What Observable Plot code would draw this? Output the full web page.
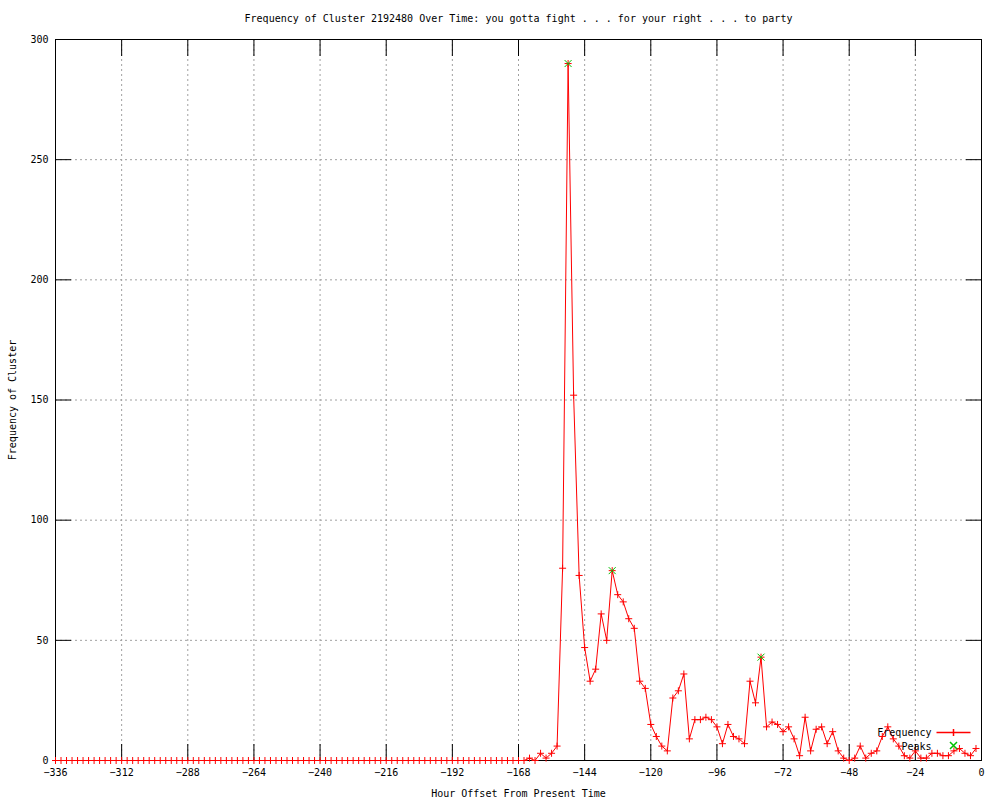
<!DOCTYPE html>
<html>
<head>
<meta charset="utf-8">
<script src="https://cdn.jsdelivr.net/npm/d3@7"></script>
<script src="https://cdn.jsdelivr.net/npm/@observablehq/plot@0.6"></script>
<style>
  html, body { margin: 0; padding: 0; background: #fff; }
  #chart svg { display: block; }
</style>
</head>
<body>
<div id="chart"></div>
<script>
// ---- Data ----
const titleText = "Frequency of Cluster 2192480 Over Time: you gotta fight . . . for your right . . . to party";
const xLabel = "Hour Offset From Present Time";
const yLabel = "Frequency of Cluster";

// hours from -336 to -2, every 2 hours
const hours = d3.range(-336, 0, 2);

const frequency = [
  0,0,0,0,0,0,0,0,0,0, 0,0,0,0,0,0,0,0,0,0,
  0,0,0,0,0,0,0,0,0,0, 0,0,0,0,0,0,0,0,0,0,
  0,0,0,0,0,0,0,0,0,0, 0,0,0,0,0,0,0,0,0,0,
  0,0,0,0,0,0,0,0,0,0, 0,0,0,0,0,0,0,0,0,0,
  0,0,0,0,0,0,
  1,0,3,1,3,6,
  80,290,152,77,47,33,38,61,50,79,
  69,66,59,55,33,30,15,10,6,4,
  26,29,36,9,17,17,18,17,14,7,
  15,10,9,7,33,24,43,14,16,15,
  12,14,9,2,18,4,13,14,7,12,
  4,1,0,1,6,1,3,4,10,14,
  9,6,2,1,4,1,1,3,3,2,
  2,4,5,3,2,5
];

const peakHours = [-150, -134, -80];

const xTicks = [-336, -312, -288, -264, -240, -216, -192, -168, -144, -120, -96, -72, -48, -24, 0];
const yTicks = [0, 50, 100, 150, 200, 250, 300];

const legendLabels = ["Frequency", "Peaks"];

// ---- Build table ----
const series = hours.map((h, i) => ({hour: h, freq: frequency[i]}));
const peaks = series.filter(d => peakHours.includes(d.hour));

// ---- Symbols ----
const plusSym = {draw(ctx) { const a = 3.5; ctx.moveTo(-a, 0); ctx.lineTo(a, 0); ctx.moveTo(0, -a); ctx.lineTo(0, a); }};
const timesSym = {draw(ctx) { const a = 3.5; ctx.moveTo(-a, -a); ctx.lineTo(a, a); ctx.moveTo(-a, a); ctx.lineTo(a, -a); }};
const legendLineSym = {draw(ctx) { const a = 3.5; ctx.moveTo(-17, 0); ctx.lineTo(17, 0); ctx.moveTo(0, -a); ctx.lineTo(0, a); }};

const RED = "#ff0000";
const GREEN = "#00c000";
const FONT = "DejaVu Sans Mono, monospace";

const chart = Plot.plot({
  width: 1000,
  height: 800,
  marginLeft: 55,
  marginRight: 19,
  marginTop: 39,
  marginBottom: 40,
  style: {fontFamily: FONT, fontSize: "10px", color: "black", background: "white"},
  x: {domain: [-336, 0]},
  y: {domain: [0, 300]},
  marks: [
    Plot.gridX(xTicks, {stroke: "#a0a0a0", strokeOpacity: 1, strokeDasharray: "2,3"}),
    Plot.gridY(yTicks, {stroke: "#a0a0a0", strokeOpacity: 1, strokeDasharray: "2,3"}),
    // inward ticks
    Plot.axisX(xTicks, {anchor: "bottom", tickSize: -16, text: null, label: null}),
    Plot.axisX(xTicks, {anchor: "top", tickSize: -16, text: null, label: null}),
    Plot.axisY(yTicks, {anchor: "left", tickSize: -16, text: null, label: null}),
    Plot.axisY(yTicks, {anchor: "right", tickSize: -16, text: null, label: null}),
    // labels
    Plot.axisX(xTicks, {anchor: "bottom", tickSize: 0, tickPadding: 8, label: null, tickFormat: d => String(d).replace("-", "\u2212")}),
    Plot.axisY(yTicks, {anchor: "left", tickSize: 0, tickPadding: 7, label: null}),
    Plot.frame({stroke: "black"}),
    // data
    Plot.line(series, {x: "hour", y: "freq", stroke: RED, strokeWidth: 1}),
    Plot.dot(series, {x: "hour", y: "freq", symbol: plusSym, stroke: RED, fill: "none", strokeWidth: 1}),
    Plot.dot(peaks, {x: "hour", y: "freq", symbol: timesSym, stroke: GREEN, fill: "none", strokeWidth: 1}),
    // titles
    Plot.text([titleText], {frameAnchor: "top", dy: -21, lineAnchor: "middle", fontSize: 10}),
    Plot.text([xLabel], {frameAnchor: "bottom", dy: 33, lineAnchor: "middle", fontSize: 10}),
    Plot.text([yLabel], {frameAnchor: "left", dx: -43, rotate: -90, lineAnchor: "middle", textAnchor: "middle", fontSize: 10}),
    // legend
    Plot.text([legendLabels[0]], {frameAnchor: "bottom-right", dx: -50, dy: -28, lineAnchor: "middle", textAnchor: "end", fontSize: 10}),
    Plot.text([legendLabels[1]], {frameAnchor: "bottom-right", dx: -50, dy: -14, lineAnchor: "middle", textAnchor: "end", fontSize: 10}),
    Plot.dot([0], {frameAnchor: "bottom-right", dx: -28, dy: -28, symbol: legendLineSym, stroke: RED, fill: "none"}),
    Plot.dot([0], {frameAnchor: "bottom-right", dx: -28, dy: -15, symbol: timesSym, stroke: GREEN, fill: "none"})
  ]
});

document.getElementById("chart").appendChild(chart);
</script>
</body>
</html>
